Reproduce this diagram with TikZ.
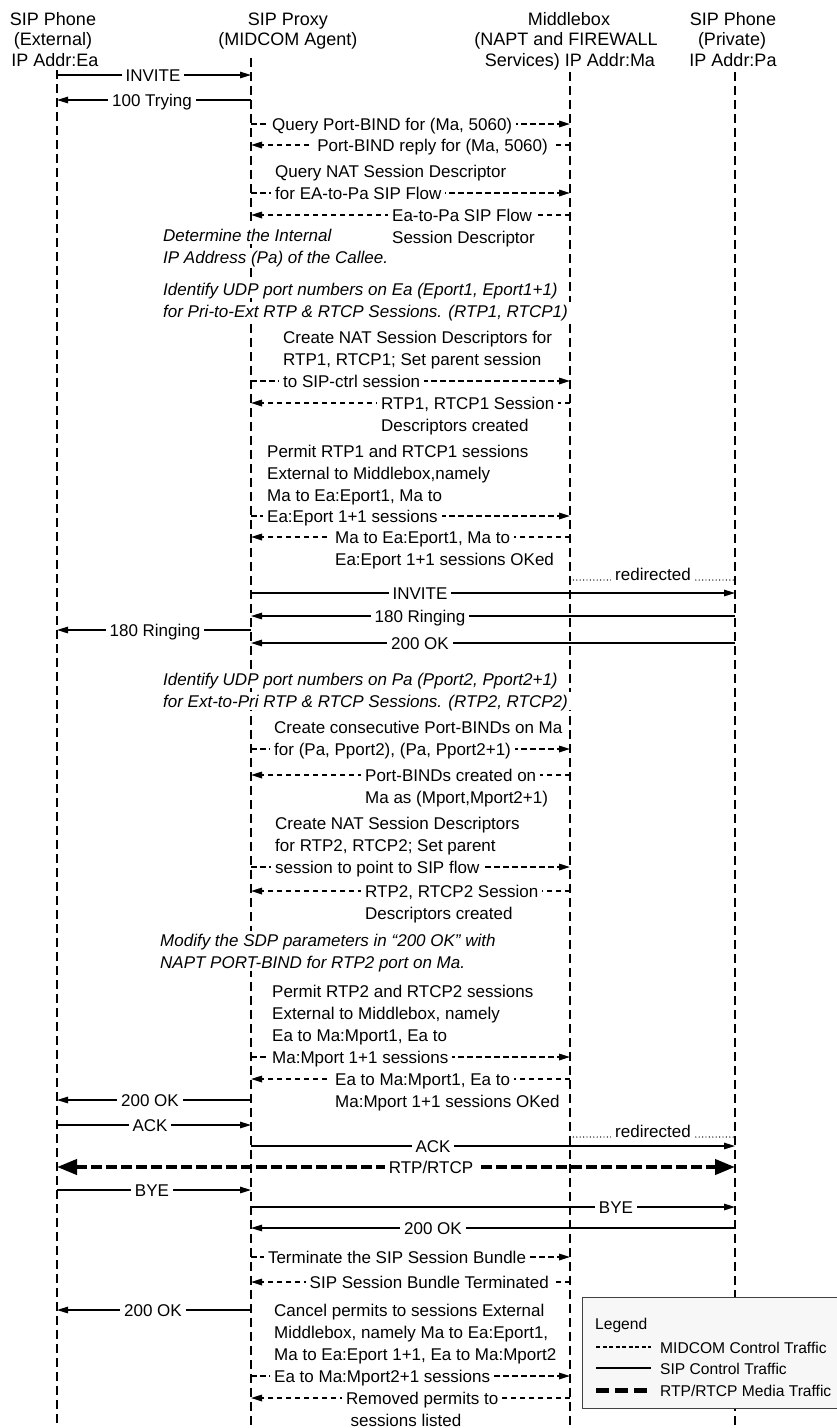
\documentclass[tikz,border=0pt]{standalone}
\usepackage{fontspec}
\setmainfont{Liberation Sans}
\usetikzlibrary{arrows.meta}
\pgfdeclarelayer{bg}
\pgfdeclarelayer{lines}
\pgfsetlayers{bg,lines,main}
\newcommand\fs{\fontsize{17pt}{22pt}\selectfont}
\newcommand\hfs{\fontsize{18pt}{22pt}\selectfont}
\newcommand\lfs{\fontsize{15.6pt}{20pt}\selectfont}
\tikzset{
  txt/.style={font=\fs, inner xsep=4pt, inner ysep=1pt, text height=14pt, text depth=2pt},
  lbl/.style={txt, fill=white},
  lw/.style={lbl, anchor=west},
  le/.style={lbl, anchor=east},
  note/.style={lbl, anchor=west, font=\fs\itshape},
  hdr/.style={font=\hfs, anchor=base, inner sep=0pt},
  legtxt/.style={txt, font=\lfs, anchor=west},
  life/.style={line width=1.2pt, dash pattern=on 9pt off 5pt},
  sip/.style={line width=1.3pt, ->},
  mid/.style={line width=1.6pt, dash pattern=on 5.5pt off 3.5pt, ->},
  rtp/.style={line width=4pt, dash pattern=on 11pt off 4pt, {Triangle[length=20pt,width=15pt]}-{Triangle[length=20pt,width=15pt]}},
  redir/.style={line width=1.4pt, line cap=round, dash pattern=on 0pt off 3.4pt},
  >={Triangle[length=11pt,width=6.5pt]}
}
\begin{document}
\begin{tikzpicture}[x=1pt,y=-1pt]
\useasboundingbox (0,0) rectangle (836,1428);
% lifeline anchors
\coordinate (E) at (57,70);  \coordinate (Eb) at (57,1432);
\coordinate (P) at (251,58); \coordinate (Pb) at (251,1432);
\coordinate (M) at (570,72); \coordinate (Mb) at (570,1432);
\coordinate (R) at (735,72); \coordinate (Rb) at (735,1432);

% headers
\node[hdr] (hE1) at (53,25) {SIP Phone};
\node[hdr] (hE2) at (53,45.5) {(External)};
\node[hdr] (hE3) at (55,66) {IP Addr:Ea};
\node[hdr] (hP1) at (288,25) {SIP Proxy};
\node[hdr] (hP2) at (288,45.5) {(MIDCOM Agent)};
\node[hdr] (hM1) at (569,25) {Middlebox};
\node[hdr] (hM2) at (566,45.5) {(NAPT and FIREWALL};
\node[hdr] (hM3) at (570,66) {Services) IP Addr:Ma};
\node[hdr] (hR1) at (733,25) {SIP Phone};
\node[hdr] (hR2) at (732,45.5) {(Private)};
\node[hdr] (hR3) at (733,66) {IP Addr:Pa};

% labels
\node[lbl] (m1) at (153,75) {INVITE};
\node[lbl] (m2) at (152,100) {100 Trying};
\node[lw] (m3) at (268,124) {Query Port-BIND for (Ma, 5060)};
\node[le] (m4) at (552,145) {Port-BIND reply for (Ma, 5060)};
\node[lw] (m5a) at (271,171) {Query NAT Session Descriptor};
\node[lw] (m5) at (271,193) {for EA-to-Pa SIP Flow};
\node[lw] (m6) at (388,215) {Ea-to-Pa SIP Flow};
\node[lw] (m6b) at (388,237) {Session Descriptor};
\node[note] (n1) at (159,235) {Determine the Internal};
\node[note] (n1b) at (159,257) {IP Address (Pa) of the Callee.};
\node[note] (n2) at (159,289) {Identify UDP port numbers on Ea (Eport1, Eport1+1)};
\node[note] (n2b) at (159,311) {for Pri-to-Ext RTP \& RTCP Sessions. (RTP1, RTCP1)};
\node[lw] (m7a) at (279,337) {Create NAT Session Descriptors for};
\node[lw] (m7b) at (279,359) {RTP1, RTCP1; Set parent session};
\node[lw] (m7) at (279,381) {to SIP-ctrl session};
\node[lw] (m8) at (377,403) {RTP1, RTCP1 Session};
\node[lw] (m8b) at (377,425) {Descriptors created};
\node[lw] (m9a) at (263,451) {Permit RTP1 and RTCP1 sessions};
\node[lw] (m9b) at (263,473) {External to Middlebox,namely};
\node[lw] (m9c) at (263,495) {Ma to Ea:Eport1, Ma to};
\node[lw] (m9) at (263,516) {Ea:Eport 1+1 sessions};
\node[lw] (m10) at (331,537) {Ma to Ea:Eport1, Ma to};
\node[lw] (m10b) at (331,559) {Ea:Eport 1+1 sessions OKed};
\node[lbl] (m11) at (653,574) {redirected};
\node[lbl] (m12) at (420,593) {INVITE};
\node[lbl] (m13) at (420,616) {180 Ringing};
\node[lbl] (m14) at (155,630) {180 Ringing};
\node[lbl] (m15) at (420,643) {200 OK};
\node[note] (n3) at (159,679) {Identify UDP port numbers on Pa (Pport2, Pport2+1)};
\node[note] (n3b) at (159,701) {for Ext-to-Pri RTP \& RTCP Sessions. (RTP2, RTCP2)};
\node[lw] (m16a) at (270,727) {Create consecutive Port-BINDs on Ma};
\node[lw] (m16) at (270,749) {for (Pa, Pport2), (Pa, Pport2+1)};
\node[lw] (m17) at (361,775) {Port-BINDs created on};
\node[lw] (m17b) at (361,797) {Ma as (Mport,Mport2+1)};
\node[lw] (m18a) at (271,823) {Create NAT Session Descriptors};
\node[lw] (m18b) at (271,845) {for RTP2, RTCP2; Set parent};
\node[lw] (m18) at (271,867) {session to point to SIP flow};
\node[lw] (m19) at (361,891) {RTP2, RTCP2 Session};
\node[lw] (m19b) at (361,913) {Descriptors created};
\node[note] (n4) at (156,940) {Modify the SDP parameters in “200 OK” with};
\node[note] (n4b) at (156,962) {NAPT PORT-BIND for RTP2 port on Ma.};
\node[lw] (m20a) at (268,991) {Permit RTP2 and RTCP2 sessions};
\node[lw] (m20b) at (268,1013) {External to Middlebox, namely};
\node[lw] (m20c) at (268,1035) {Ea to Ma:Mport1, Ea to};
\node[lw] (m20) at (268,1057) {Ma:Mport 1+1 sessions};
\node[lw] (m21) at (331,1079) {Ea to Ma:Mport1, Ea to};
\node[lw] (m21b) at (331,1101) {Ma:Mport 1+1 sessions OKed};
\node[lbl] (m22) at (150,1100) {200 OK};
\node[lbl] (m23) at (150,1125) {ACK};
\node[lbl] (m24) at (653,1131) {redirected};
\node[lbl] (m25) at (433,1146) {ACK};
\node[lbl] (m26) at (431,1167) {RTP/RTCP};
\node[lbl] (m27) at (152,1190) {BYE};
\node[lbl] (m28) at (616,1207) {BYE};
\node[lbl] (m29) at (433,1228) {200 OK};
\node[lbl] (m30) at (397,1257) {Terminate the SIP Session Bundle};
\node[le] (m31) at (553,1282) {SIP Session Bundle Terminated};
\node[lbl] (m32) at (153,1310) {200 OK};
\node[lw] (m33a) at (270,1310) {Cancel permits to sessions External};
\node[lw] (m33b) at (270,1332) {Middlebox, namely Ma to Ea:Eport1,};
\node[lw] (m33c) at (270,1354) {Ma to Ea:Eport 1+1, Ea to Ma:Mport2};
\node[lw] (m33) at (270,1376) {Ea to Ma:Mport2+1 sessions};
\node[lw] (m34) at (342,1398) {Removed permits to};
\node[lbl] (m34b) at (406,1420) {sessions listed};

% connectors
\begin{pgfonlayer}{lines}
\draw[sip] (E |- m1) -- (P |- m1);
\draw[sip] (P |- m2) -- (E |- m2);
\draw[mid] (P |- m3) -- (M |- m3);
\draw[mid] (M |- m4) -- (P |- m4);
\draw[mid] (P |- m5) -- (M |- m5);
\draw[mid] (M |- m6) -- (P |- m6);
\draw[mid] (P |- m7) -- (M |- m7);
\draw[mid] (M |- m8) -- (P |- m8);
\draw[mid] (P |- m9) -- (M |- m9);
\draw[mid] (M |- m10) -- (P |- m10);
\draw[redir] (M |- m11.base) -- (R |- m11.base);
\draw[sip] (P |- m12) -- (R |- m12);
\draw[sip] (R |- m13) -- (P |- m13);
\draw[sip] (P |- m14) -- (E |- m14);
\draw[sip] (R |- m15) -- (P |- m15);
\draw[mid] (P |- m16) -- (M |- m16);
\draw[mid] (M |- m17) -- (P |- m17);
\draw[mid] (P |- m18) -- (M |- m18);
\draw[mid] (M |- m19) -- (P |- m19);
\draw[mid] (P |- m20) -- (M |- m20);
\draw[mid] (M |- m21) -- (P |- m21);
\draw[sip] (P |- m22) -- (E |- m22);
\draw[sip] (E |- m23) -- (P |- m23);
\draw[redir] (M |- m24.base) -- (R |- m24.base);
\draw[sip] (P |- m25) -- (R |- m25);
\draw[rtp] (E |- m26) -- (R |- m26);
\draw[sip] (E |- m27) -- (P |- m27);
\draw[sip] (P |- m28) -- (R |- m28);
\draw[sip] (R |- m29) -- (P |- m29);
\draw[mid] (P |- m30) -- (M |- m30);
\draw[mid] (M |- m31) -- (P |- m31);
\draw[sip] (P |- m32) -- (E |- m32);
\draw[mid] (P |- m33) -- (M |- m33);
\draw[mid] (M |- m34) -- (P |- m34);
\end{pgfonlayer}

% lifelines
\begin{pgfonlayer}{bg}
\draw[life] (E) -- (Eb);
\draw[life] (P) -- (Pb);
\draw[life] (M) -- (Mb);
\draw[life] (R) -- (Rb);
\end{pgfonlayer}

% legend
\node[draw=black!75, line width=0.9pt, fill=black!3, minimum width=266pt, minimum height=111pt, anchor=north west, inner sep=0pt] (leg) at (582,1297) {};
\node[legtxt] (legT) at (591,1323) {Legend};
\node[legtxt] (l1) at (656,1347) {MIDCOM Control Traffic};
\node[legtxt] (l2) at (656,1368) {SIP Control Traffic};
\node[legtxt] (l3) at (656,1390) {RTP/RTCP Media Traffic};
\coordinate (s1) at (596,1347); \coordinate (s2) at (596,1368); \coordinate (s3) at (596,1390);
\draw[line width=1.6pt, dash pattern=on 4pt off 2.5pt] (s1) -- ([xshift=55pt]s1);
\draw[line width=2.6pt] (s2) -- ([xshift=55pt]s2);
\draw[line width=5pt, dash pattern=on 13pt off 6pt] (s3) -- ([xshift=55pt]s3);
\end{tikzpicture}
\end{document}
